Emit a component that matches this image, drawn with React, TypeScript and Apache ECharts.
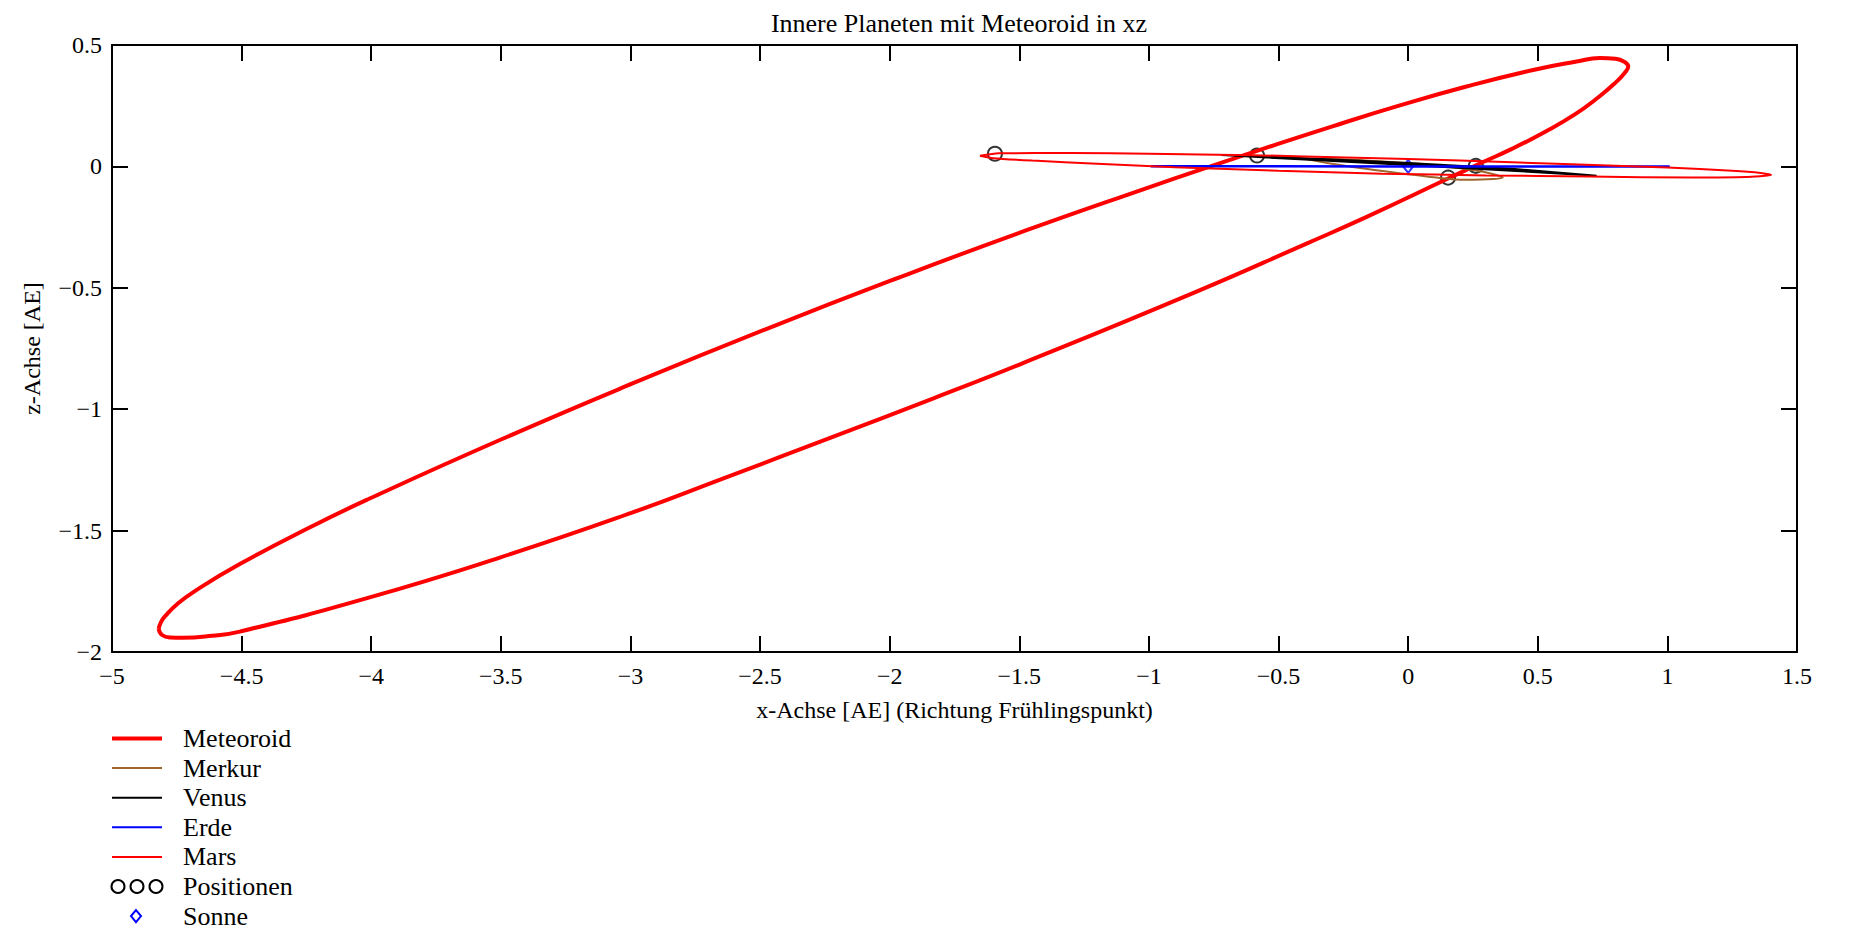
import React, { useEffect, useRef } from "react";
import * as echarts from "echarts";

// Meteoroid orbit (xz projection)
const meteoroidX = [
  -4.820, -4.810, -4.794, -4.749, -4.679, -4.507, -4.228, -4.006, -3.504, -2.992,
  -2.474, -1.960, -1.480, -1.000, -0.800, -0.546, -0.289, -0.032, 0.225, 0.482,
  0.650, 0.740, 0.800, 0.835, 0.849, 0.835, 0.800, 0.740, 0.640, 0.520,
  0.400, 0.289, 0.154, -0.160, -0.392, -0.830, -1.497, -1.831, -2.217, -2.654,
  -2.994, -3.504, -4.006, -4.507, -4.614, -4.729, -4.775, -4.807, -4.820,
];
const meteoroidZ = [
  -1.905, -1.875, -1.851, -1.803, -1.748, -1.638, -1.482, -1.368, -1.127, -0.894,
  -0.669, -0.456, -0.266, -0.086, -0.013, 0.077, 0.166, 0.251, 0.329, 0.397,
  0.432, 0.446, 0.443, 0.430, 0.411, 0.385, 0.345, 0.290, 0.212, 0.138,
  0.072, 0.018, -0.050, -0.208, -0.318, -0.522, -0.815, -0.955, -1.113, -1.290,
  -1.426, -1.611, -1.775, -1.916, -1.933, -1.941, -1.940, -1.930, -1.905,
];

const merkurX = [-0.392, -0.300, -0.100, 0.100, 0.250, 0.330, 0.365, 0.330, 0.220, 0.100, 0.000, -0.150, -0.300, -0.392];
const merkurZ = [0.030, 0.030, 0.020, 0.005, -0.015, -0.032, -0.045, -0.052, -0.055, -0.045, -0.032, -0.012, 0.012, 0.030];

const venusX = [-0.720, -0.400, 0.000, 0.400, 0.727, 0.400, 0.000, -0.400, -0.720];
const venusZ = [0.047, 0.034, 0.014, -0.010, -0.039, -0.018, 0.006, 0.028, 0.047];

const erdeX = [-0.993, 0.000, 1.009];
const erdeZ = [0.001, 0.000, 0.000];

const marsX = [-1.652, -1.580, -1.300, -1.000, -0.600, -0.200, 0.200, 0.600, 1.000, 1.250, 1.360, 1.400,
  1.300, 1.100, 0.700, 0.300, -0.100, -0.500, -0.900, -1.200, -1.450, -1.600, -1.652];
const marsZ = [0.044, 0.054, 0.055, 0.052, 0.046, 0.036, 0.024, 0.010, -0.005, -0.018, -0.027, -0.035,
  -0.044, -0.046, -0.042, -0.037, -0.030, -0.018, -0.003, 0.011, 0.024, 0.034, 0.044];

const positionenX = [-1.594, -0.583, 0.154, 0.261];
const positionenZ = [0.052, 0.045, -0.046, 0.002];

const sonneX = [0];
const sonneZ = [0];

const legendNames = ["Meteoroid", "Merkur", "Venus", "Erde", "Mars", "Positionen", "Sonne"];

const titleText = "Innere Planeten mit Meteoroid in xz";
const xAxisName = "x-Achse [AE] (Richtung Frühlingspunkt)";
const yAxisName = "z-Achse [AE]";

const FONT = "'Liberation Serif', 'Times New Roman', serif";
const BROWN = "#a0642d";

const zip = (xs: number[], zs: number[]) => xs.map((x, i) => [x, zs[i]]);
const fmt = (v: number) => (v < 0 ? "\u2212" + String(-v) : String(v));

export default function App() {
  const ref = useRef<HTMLDivElement>(null);
  useEffect(() => {
    if (!ref.current) return;
    const chart = echarts.init(ref.current, null, { renderer: "svg" });

    const axisLine = { show: true, onZero: false, lineStyle: { color: "#000", width: 2 } };
    const axisTick = { show: true, inside: true, length: 16, lineStyle: { color: "#000", width: 2 } };
    const labelStyle = { color: "#000", fontSize: 24, fontFamily: FONT };

    const lx0 = 112, lx1 = 162, ltx = 183, ly0 = 738.5, ldy = 29.6;
    const legendGraphics: any[] = [];
    const lineStyles = [
      { stroke: "#ff0000", lineWidth: 4 },
      { stroke: BROWN, lineWidth: 2 },
      { stroke: "#000000", lineWidth: 2 },
      { stroke: "#0000ff", lineWidth: 2 },
      { stroke: "#ff0000", lineWidth: 2 },
    ];
    legendNames.forEach((name, i) => {
      const y = ly0 + i * ldy;
      if (i < 5) {
        legendGraphics.push({
          type: "line",
          shape: { x1: lx0, y1: y, x2: lx1, y2: y },
          style: lineStyles[i],
        });
      } else if (i === 5) {
        [118, 137, 156].forEach((cx) =>
          legendGraphics.push({
            type: "circle",
            shape: { cx, cy: y, r: 6.5 },
            style: { fill: "none", stroke: "#000", lineWidth: 2 },
          })
        );
      } else {
        legendGraphics.push({
          type: "polygon",
          shape: { points: [[136, y - 6], [141, y], [136, y + 6], [131, y]] },
          style: { fill: "none", stroke: "#0000ff", lineWidth: 2 },
        });
      }
      legendGraphics.push({
        type: "text",
        x: ltx,
        y,
        style: { text: name, fontSize: 26, fontFamily: FONT, fill: "#000", verticalAlign: "middle", align: "left" },
      });
    });

    chart.setOption({
      animation: false,
      backgroundColor: "#fff",
      title: {
        text: titleText,
        left: 954,
        top: 5,
        textAlign: "center",
        textStyle: { color: "#000", fontSize: 26, fontWeight: "normal", fontFamily: FONT },
      },
      grid: { left: 112, right: 53, top: 45, bottom: 280, containLabel: false },
      xAxis: [
        {
          type: "value",
          position: "bottom",
          min: -5,
          max: 1.5,
          interval: 0.5,
          axisLine,
          axisTick,
          splitLine: { show: false },
          axisLabel: { ...labelStyle, margin: 12, formatter: fmt },
          name: xAxisName,
          nameLocation: "middle",
          nameGap: 46,
          nameTextStyle: { ...labelStyle },
        },
        {
          type: "value",
          position: "top",
          min: -5,
          max: 1.5,
          interval: 0.5,
          axisLine,
          axisTick,
          splitLine: { show: false },
          axisLabel: { show: false },
        },
      ],
      yAxis: [
        {
          type: "value",
          position: "left",
          min: -2,
          max: 0.5,
          interval: 0.5,
          axisLine,
          axisTick,
          splitLine: { show: false },
          axisLabel: { ...labelStyle, margin: 10, padding: [8, 0, 0, 0], formatter: fmt },
          name: yAxisName,
          nameLocation: "middle",
          nameGap: 68,
          nameRotate: 90,
          nameTextStyle: { ...labelStyle },
        },
        {
          type: "value",
          position: "right",
          min: -2,
          max: 0.5,
          interval: 0.5,
          axisLine,
          axisTick,
          splitLine: { show: false },
          axisLabel: { show: false },
        },
      ],
      graphic: legendGraphics,
      series: [
        {
          name: "Meteoroid",
          type: "line",
          data: zip(meteoroidX, meteoroidZ),
          showSymbol: false,
          symbol: "none",
          smooth: 0.5,
          lineStyle: { color: "#ff0000", width: 4 },
        },
        {
          name: "Merkur",
          type: "line",
          data: zip(merkurX, merkurZ),
          showSymbol: false,
          symbol: "none",
          smooth: 0.3,
          lineStyle: { color: BROWN, width: 2 },
        },
        {
          name: "Venus",
          type: "line",
          data: zip(venusX, venusZ),
          showSymbol: false,
          symbol: "none",
          lineStyle: { color: "#000", width: 2 },
        },
        {
          name: "Erde",
          type: "line",
          data: zip(erdeX, erdeZ),
          showSymbol: false,
          symbol: "none",
          lineStyle: { color: "#0000ff", width: 2.5 },
        },
        {
          name: "Mars",
          type: "line",
          data: zip(marsX, marsZ),
          showSymbol: false,
          symbol: "none",
          smooth: 0.2,
          lineStyle: { color: "#ff0000", width: 2 },
        },
        {
          name: "Positionen",
          type: "scatter",
          data: zip(positionenX, positionenZ),
          symbol: "circle",
          symbolSize: 14,
          itemStyle: { color: "transparent", borderColor: "#000", borderWidth: 2 },
        },
        {
          name: "Sonne",
          type: "scatter",
          data: zip(sonneX, sonneZ),
          symbol: "diamond",
          symbolSize: [10, 13],
          itemStyle: { color: "transparent", borderColor: "#0000ff", borderWidth: 2 },
        },
      ],
    });
    return () => chart.dispose();
  }, []);

  return (
    <div
      ref={ref}
      style={{ position: "fixed", left: 0, top: 0, width: 1850, height: 932, background: "#fff" }}
    />
  );
}
